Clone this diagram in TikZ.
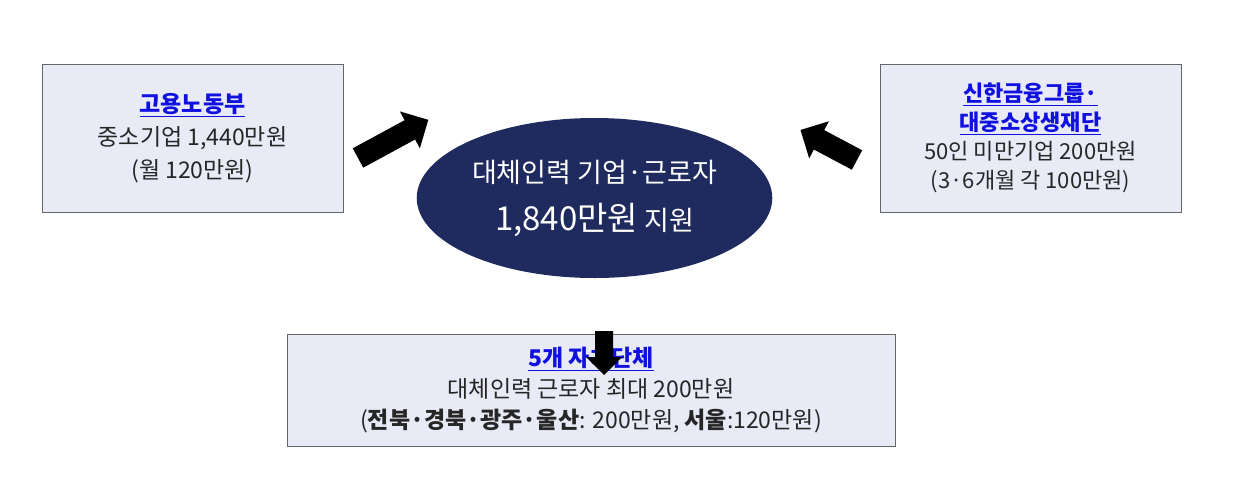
\documentclass[tikz,border=0pt]{standalone}
\usepackage{fontspec}
\setmainfont{Noto Sans CJK KR}
\usetikzlibrary{shapes.geometric}
\definecolor{boxfill}{HTML}{E8EAF6}
\definecolor{navy}{HTML}{1F2B5E}
\definecolor{ttl}{HTML}{1010E0}
\tikzset{
 infobox/.style={draw=black!60,fill=boxfill,line width=0.8pt,align=center,inner sep=0pt,font=\fontsize{23}{33}\selectfont,text=black!85},
}
\newcommand{\ttlx}[1]{\textcolor{ttl}{\underline{\textbf{#1}}}}
\newcommand{\blockarrow}[6]{% x y angle length shaftHalf headHalf (head length = headHalf)
 \fill[black,shift={(#1,#2)},rotate=#3] (0,-#5) -- (#4-#6,-#5) -- (#4-#6,-#6) -- (#4,0) -- (#4-#6,#6) -- (#4-#6,#5) -- (0,#5) -- cycle;}
\begin{document}
\begin{tikzpicture}[x=1pt,y=-1pt]
\useasboundingbox (0,0) rectangle (1236,480);
\node[infobox,minimum width=301pt,minimum height=148pt] (l) at (192.5,138) {\ttlx{고용노동부}\\중소기업 1,440만원\\(월 120만원)};
\node[infobox,minimum width=301pt,minimum height=148pt,font=\fontsize{22}{29}\selectfont] (r) at (1030.5,138) {\ttlx{신한금융그룹·}\\\ttlx{대중소상생재단}\\50인 미만기업 200만원\\(3·6개월 각 100만원)};
\node[infobox,minimum width=608pt,minimum height=112pt,font=\fontsize{23}{31}\selectfont] (b) at (591,390) {\ttlx{5개 자치단체}\\대체인력 근로자 최대 200만원\\(\textbf{전북·경북·광주·울산}: 200만원, \textbf{서울}:120만원)};
\node[ellipse,fill=navy,minimum width=321pt,minimum height=160pt,text=white,align=center,font=\fontsize{27}{48}\selectfont] (c) at (594.5,198) {대체인력 기업·근로자\\{\fontsize{33}{48}\selectfont 1,840만원} 지원};
\blockarrow{358}{158}{28.5}{80}{11}{21}
\blockarrow{857}{160}{152}{64}{11}{21}
\blockarrow{604}{331}{-90}{44}{9}{18}
\end{tikzpicture}
\end{document}
